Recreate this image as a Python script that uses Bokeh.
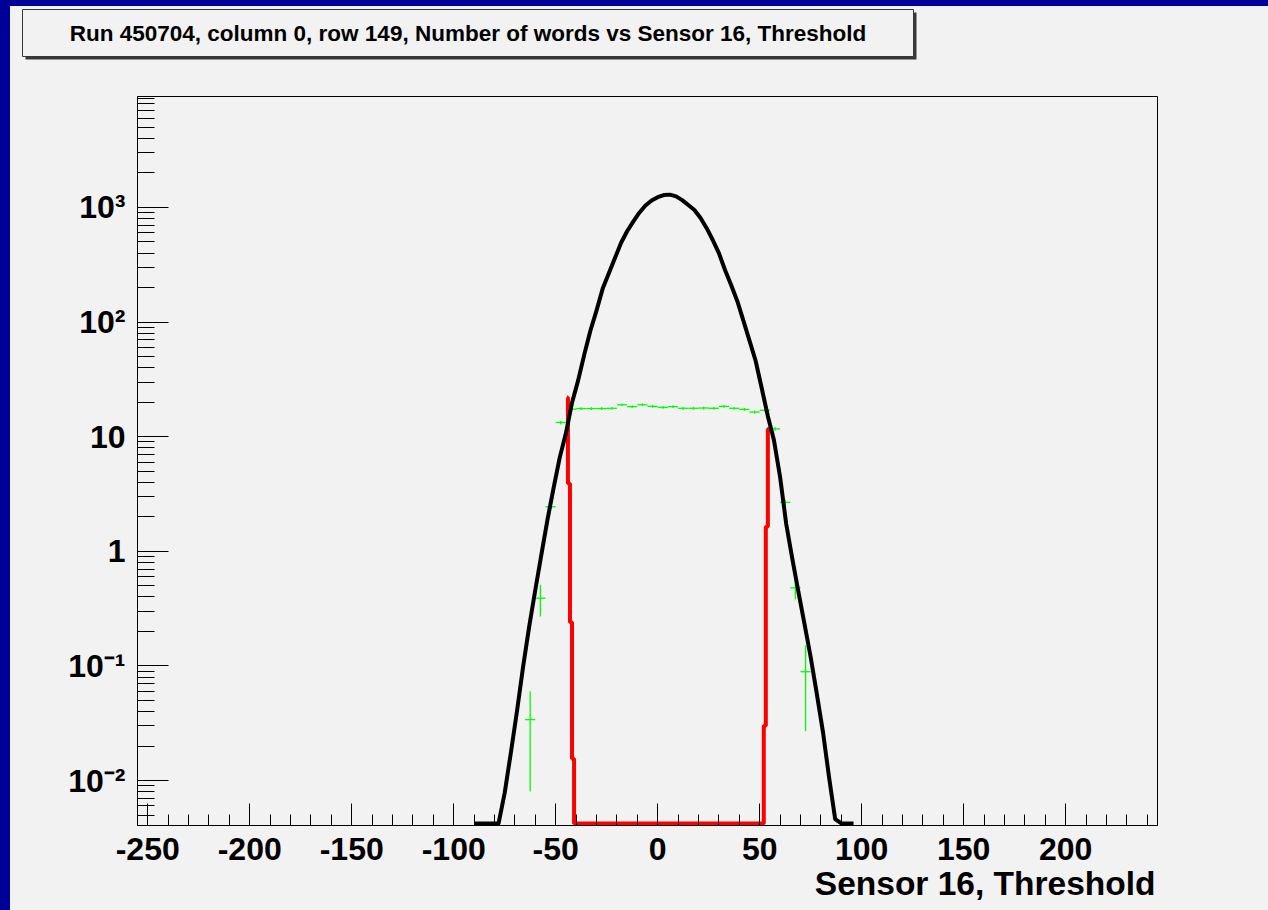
import numpy as np
from bokeh.plotting import figure
from bokeh.models import Range1d, FixedTicker, Title
from bokeh.layouts import column
from bokeh.embed import file_html
from bokeh.resources import INLINE
from bokeh.core.properties import value

# ---------------- data ----------------
# black histogram (Number of words), sampled every 3 units
black_x = [-90, -87, -84, -81, -78, -75, -72, -69, -66, -63, -60, -57, -54, -51,
           -48, -45, -42, -39, -36, -33, -30, -27, -24, -21, -18, -15, -12, -9,
           -6, -3, 0, 3, 6, 9, 12, 15, 18, 21, 24, 27, 30, 33, 36, 39, 42, 45,
           48, 51, 54, 57, 60, 63, 66, 69, 72, 75, 78, 81, 84, 87, 90, 93, 96]
black_y = [0, 0, 0, 0, 0, 0.0078, 0.0174, 0.040, 0.098, 0.22, 0.46, 0.94, 1.9, 3.6,
           6.6, 10.7, 19.8, 31, 52, 84, 126, 195, 265, 360, 490, 620, 753, 900,
           1040, 1150, 1230, 1285, 1295, 1250, 1160, 1050, 950, 810, 660, 520, 400,
           285, 211, 153, 103, 69, 46, 26.5, 15.1, 9.3, 4.45, 1.73, 0.86, 0.44,
           0.23, 0.119, 0.057, 0.0266, 0.0107, 0.0046, 0, 0, 0]

# green histogram with errors (bin width 5)
green_x = [-62.5, -57.5, -52.5, -47.5, -42.5, -37.5, -32.5, -27.5, -22.5, -17.5,
           -12.5, -7.5, -2.5, 2.5, 7.5, 12.5, 17.5, 22.5, 27.5, 32.5, 37.5, 42.5,
           47.5, 52.5, 57.5, 62.5, 67.5, 72.5]
green_y = [0.034, 0.39, 2.45, 13.3, 17.4, 17.6, 17.6, 17.6, 17.7, 19.0,
           18.3, 19.0, 18.4, 18.0, 18.3, 17.7, 17.7, 17.8, 17.7, 18.4, 17.7, 17.3,
           16.4, 17.0, 11.7, 2.67, 0.48, 0.089]
green_err = [0.026, 0.12, 0.15, 0.5, 0.5, 0.5, 0.5, 0.5, 0.5, 0.5,
             0.5, 0.5, 0.5, 0.5, 0.5, 0.5, 0.5, 0.5, 0.5, 0.5, 0.5, 0.5,
             0.5, 0.5, 0.45, 0.15, 0.1, 0.062]
green_bin_width = 5

# red histogram (bin width 1), empty bins in between
red_x = [-44.5, -43.5, -42.5, -41.5, -40.5, 51.5, 52.5, 53.5, 54.5]
red_y = [22, 3.9, 0.24, 0.0155, 0, 0, 0.03, 1.64, 11.7]

x_ticks = [-250, -200, -150, -100, -50, 0, 50, 100, 150, 200]
x_tick_labels = ["-250", "-200", "-150", "-100", "-50", "0", "50", "100", "150", "200"]
y_ticks = [0.01, 0.1, 1, 10, 100, 1000]
y_tick_labels = ["10\u207b\u00b2", "10\u207b\u00b9", "1", "10", "10\u00b2", "10\u00b3"]

title_text = "Run 450704, column 0, row 149, Number of words vs Sensor 16, Threshold"
x_title = "Sensor 16, Threshold"

# ---------------- styling ----------------
BG = "#f2f2f2"
BLUE = "#000099"
FONT = "Liberation Sans"
Y_MIN, Y_MAX = 0.00405, 9300
FLOOR = 0.00422   # where empty bins are drawn (bottom of frame)

# ---------------- title strip ----------------
tf = figure(width=1258, height=70, x_range=Range1d(0, 1258), y_range=Range1d(70, 0),
            x_axis_type=None, y_axis_type=None, toolbar_location=None,
            output_backend="svg", min_border=0, outline_line_color=None,
            background_fill_color=BG, border_fill_color=BG)
tf.quad(left=[15], right=[906], top=[6], bottom=[53], fill_color="#383838", line_color=None)
tf.quad(left=[12], right=[903], top=[3], bottom=[50], fill_color=BG,
        line_color="#383838", line_width=1)
tf.text(x=[457.5], y=[27], text=[title_text], text_align="center", text_baseline="middle",
        text_font=value(FONT), text_font_style="bold", text_font_size="22.5px",
        text_color="black")
tf.margin = (6, 0, 0, 10)

# ---------------- main plot ----------------
p = figure(frame_width=1020, frame_height=729,
           x_range=Range1d(-255, 245), y_range=Range1d(Y_MIN, Y_MAX),
           y_axis_type="log", toolbar_location=None, output_backend="svg",
           min_border_left=127, min_border_right=111, min_border_top=20, min_border_bottom=85,
           background_fill_color=BG, border_fill_color=BG,
           outline_line_color="black", outline_line_width=1)
p.xgrid.visible = False
p.ygrid.visible = False
p.margin = (0, 0, 0, 10)

try:
    tf.frame_align = False
    p.frame_align = False
except Exception:
    pass

# green histogram with error bars
gx = np.array(green_x, float)
gy = np.array(green_y, float)
ge = np.array(green_err, float)
half = green_bin_width / 2
p.segment(x0=gx - half, y0=gy, x1=gx + half, y1=gy, line_color="#00ff00", line_width=1.3)
p.segment(x0=gx, y0=gy - ge, x1=gx, y1=gy + ge, line_color="#00ff00", line_width=1.3)

# red histogram (steps)
ry = np.array(red_y, float)
p.step(x=red_x, y=np.where(ry > 0, ry, FLOOR), mode="center",
       line_color="#ff0000", line_width=4)

# black histogram (smooth line)
by = np.array(black_y, float)
p.line(x=black_x, y=np.where(by > 0, by, FLOOR), line_color="black", line_width=4,
       line_join="round")

# axes
xa = p.xaxis[0]
xa.ticker = FixedTicker(ticks=x_ticks, minor_ticks=list(range(-250, 245, 10)))
xa.major_label_overrides = dict(zip(x_ticks, x_tick_labels))
ya = p.yaxis[0]
ya.ticker = FixedTicker(ticks=y_ticks,
                        minor_ticks=[m * 10.0 ** e for e in range(-3, 4) for m in range(2, 10)
                                     if Y_MIN < m * 10.0 ** e < Y_MAX])
ya.major_label_overrides = dict(zip(y_ticks, y_tick_labels))

for ax in (xa, ya):
    ax.axis_line_color = "black"
    ax.axis_line_width = 1
    ax.major_tick_line_color = "black"
    ax.minor_tick_line_color = "black"
    ax.major_tick_out = 0
    ax.minor_tick_out = 0
    ax.major_label_text_font = FONT
    ax.major_label_text_font_style = "bold"
    ax.major_label_text_font_size = "32px"
    ax.major_label_text_color = "black"
xa.major_tick_in = 22
xa.minor_tick_in = 11
xa.major_label_standoff = 12
ya.major_tick_in = 31
ya.minor_tick_in = 17
ya.major_label_standoff = 12

p.add_layout(Title(text=x_title, align="right", text_font=FONT, text_font_style="bold",
                   text_font_size="33.5px", text_color="black", standoff=0, offset=2),
             "below")

bg_css = ("linear-gradient(to right, %s 10px, transparent 10px), "
          "linear-gradient(to bottom, %s 6px, %s 6px)" % (BLUE, BLUE, BG))
layout = column(tf, p, spacing=0, styles={"background": bg_css})

open("out.html", "w").write(file_html(layout, INLINE))
